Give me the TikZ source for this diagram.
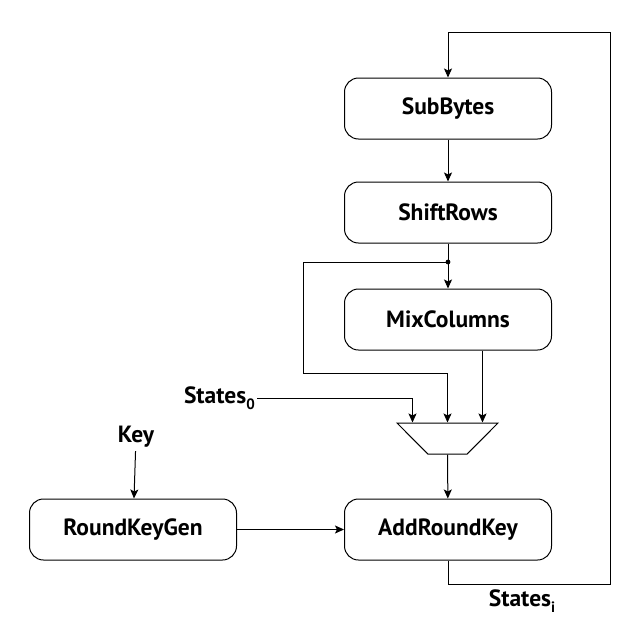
\documentclass[tikz,border=0pt]{standalone}
\usepackage{fontspec}
\setmainfont{PT Sans}
\usetikzlibrary{positioning,shapes,arrows,arrows.meta}

\newcommand{\lowsub}[1]{\raisebox{-5.5pt}{\fontsize{15}{15}\selectfont #1}}

\begin{document}
\begin{tikzpicture}[x=1pt, y=-1pt, node distance=104pt,
  font=\fontsize{23.5}{26}\selectfont\bfseries,
  block/.style={rectangle, rounded corners=14pt, draw, line width=1pt, minimum width=207pt, minimum height=61pt},
  arr/.style={-{Stealth[length=9pt, width=8pt, inset=2pt]}, line width=1pt}]
\useasboundingbox (0,0) rectangle (635,643);

% Round pipeline
\node (subbytes) [block] at (448,108.5) {SubBytes};
\node (shiftrows) [block, below of=subbytes] {ShiftRows};
\node (mixcol) [block, below of=shiftrows, yshift=-3pt] {MixColumns};

% Multiplexer
\node (mux) [trapezium, draw, line width=1pt, shape border rotate=180, trapezium angle=52, trapezium stretches=true, minimum width=101pt, minimum height=31pt, inner sep=2pt] at (447.5,438.5) {};
\coordinate (in1) at ([xshift=-35pt]mux.north);
\coordinate (in2) at (mux.north);
\coordinate (in3) at ([xshift=35pt]mux.north);

% Key path
\node (addkey) [block, below of=mixcol, yshift=-106pt] {AddRoundKey};
\node (keygen) [block, left of=addkey, xshift=-211pt] {RoundKeyGen};
\node (key) at (136,437) {Key};

% Labels
\node (states0) [anchor=east, inner sep=2pt] at (257,398) {States\lowsub{0}};
\node (statesi) at (522,601) {States\lowsub{i}};

% Helper points
\coordinate (split) at (448,262);
\coordinate (bypass) at (303,373);
\coordinate (loopbr) at (610,584);
\coordinate (looptr) at (610,32);

% Arrows
\draw[arr] (subbytes) -- (shiftrows);
\draw[line width=1pt] (shiftrows) -- (split);
\fill (split) circle (2.4pt);
\draw[arr] (split) -- (mixcol);
\draw[arr] (split) -| (bypass) -| (in2);
\draw[arr] (mixcol.south -| in3) -- (in3);
\draw[arr] (states0.east) -| (in1);
\draw[arr] (mux) -- (addkey);
\draw[arr] (key) -- (keygen);
\draw[arr] (keygen) -- (addkey);
\draw[arr] (addkey.south) |- (loopbr) -- (looptr) -| (subbytes.north);
\end{tikzpicture}
\end{document}
